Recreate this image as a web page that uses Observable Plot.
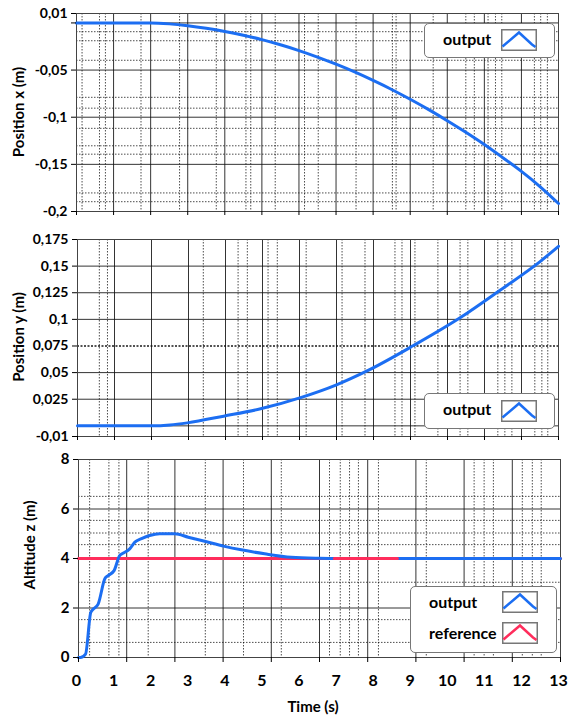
<!DOCTYPE html>
<html><head><meta charset="utf-8">
<script src="https://cdn.jsdelivr.net/npm/d3@7"></script>
<script src="https://cdn.jsdelivr.net/npm/@observablehq/plot@0.6"></script>
<style>
body{margin:0;background:#fff;}
#wrap{position:relative;width:569px;height:717px;overflow:hidden;font-family:Lato,"Open Sans",sans-serif;font-weight:700;color:#000;background:#fff;}
.panel{position:absolute;left:0;}
.lab{position:absolute;white-space:nowrap;font-size:15px;line-height:20px;height:20px;}
.rot{transform:translate(-50%,-50%) rotate(-90deg);}
.hor{transform:translate(-50%,-50%);}
.legend{position:absolute;border:1px solid #777;border-radius:5px;background:#fff;box-sizing:border-box;}
.legend .txt{position:absolute;font-size:16px;line-height:20px;height:20px;white-space:nowrap;}
.legend svg{position:absolute;}
</style>
</head><body><div id="wrap"></div>
<script>
// ---------- data ----------
const timeX = [0, 1, 2, 2.5, 3, 3.5, 4, 4.5, 5, 5.5, 6, 6.5, 7, 7.5, 8, 8.5, 9, 9.5, 10, 10.5, 11, 11.5, 12, 12.5, 13];
const posX  = [0, 0, 0, -0.0010, -0.0030, -0.0057, -0.0090, -0.0130, -0.0177, -0.0232, -0.0293, -0.0362, -0.0438, -0.0520, -0.0610, -0.0706, -0.0810, -0.0920, -0.1037, -0.1160, -0.1290, -0.1430, -0.1575, -0.1735, -0.1915];

const timeY = [0, 1, 2, 2.5, 2.97, 3.95, 4.95, 6.03, 7.0, 7.84, 9.08, 10.35, 11.43, 12.51, 13.0];
const posY  = [0, 0, 0, 0.0008, 0.0028, 0.0091, 0.0160, 0.0265, 0.0385, 0.0518, 0.0754, 0.1017, 0.1276, 0.1545, 0.1686];

const timeZ = [0, 0.05, 0.19, 0.33, 0.40, 0.53, 0.71, 0.80, 0.96, 1.11, 1.20, 1.38, 1.52, 1.70, 1.92, 2.19, 2.60, 2.96, 3.32, 3.94, 4.39, 5.02, 5.74, 6.5, 7.0, 13.0];
const altZ  = [0, 0, 0.14, 1.82, 1.96, 2.16, 3.18, 3.31, 3.51, 4.12, 4.21, 4.39, 4.66, 4.80, 4.93, 5.0, 5.0, 4.86, 4.73, 4.49, 4.35, 4.19, 4.05, 4.01, 4.0, 4.0];

const refTime = [0, 6.9, 8.6, 13];
const refAlt  = [4, 4, 4, 4];
const refVisibleFrom = 6.9, refVisibleTo = 8.6;

const yTicksX = [0.01, 0, -0.05, -0.1, -0.15, -0.2];
const yTicksY = [0.175, 0.15, 0.125, 0.1, 0.075, 0.05, 0.025, -0.01];
const yTicksZ = [0, 2, 4, 6, 8];
const xTickLabels = [0, 1, 2, 3, 4, 5, 6, 7, 8, 9, 10, 11, 12, 13];
const xTickMarksZ = [0, 1.3, 2.6, 3.9, 5.2, 6.5, 7.8, 9.1, 10.4, 11.7, 13];

const gridMajX1 = [1, 2, 3, 4, 5, 6, 7, 8, 9, 10, 11, 12];
const gridMinX1 = [0.15, 0.62, 0.78, 1.74, 2.78, 3.77, 4.57, 4.7, 5.36, 6.15, 6.52, 7.54, 8.52, 8.62, 9.62, 10.5, 10.73, 11.1, 11.3, 11.47, 12.35, 12.52, 12.7];
const gridMajY1 = [0, -0.05, -0.1, -0.15];
const gridMinY1 = [-0.0093, -0.0189, -0.0396, -0.0789, -0.0904, -0.1118, -0.1303, -0.1392, -0.1803, -0.1896];

const gridMajX2 = [1, 2, 3, 4, 5, 6, 7, 8, 9, 10, 11, 12];
const gridMinX2 = [0.59, 0.81, 3.40, 4.34, 4.59, 5.15, 5.40, 6.18, 7.15, 7.77, 8.58, 8.77, 9.12, 9.74, 10.34, 10.55, 11.36, 11.55, 11.74, 12.36, 12.55, 12.71];
const gridMajY2 = [0, 0.025, 0.05, 0.1, 0.125, 0.15];
const gridMinY2 = [0.075];

const gridMajX3 = [1.3, 2.6, 3.9, 5.2, 6.5, 7.8, 9.1, 10.4, 11.7];
const gridMinX3 = [0.30, 0.82, 1.09, 1.88, 3.42, 4.45, 5.47, 6.77, 7.06, 7.31, 7.55, 8.09, 9.38, 10.67, 10.94, 11.19, 11.97, 12.24, 12.48];
const gridMajY3 = [2, 4, 6];
const gridMinY3 = [0.61, 1.53, 3.04, 4.56, 5.03, 5.54, 6.51];

// ---------- build ----------
const BLUE = "#1c6ef2", RED = "#ff2d5c";
const comma = d => String(d).replace(".", ",");
const zip = (ts, vs) => ts.map((t, i) => ({t, v: vs[i]}));

const dataX = zip(timeX, posX), dataY = zip(timeY, posY), dataZ = zip(timeZ, altZ), dataRef = zip(refTime, refAlt);

const wrap = document.getElementById("wrap");

function grids(minX, minY, majX, majY, minYOpts = {}) {
  return [
    Plot.gridX(minX, {stroke: "#000", strokeOpacity: 0.7, strokeDasharray: "1.5,1.5"}),
    Plot.gridY(minY, Object.assign({stroke: "#000", strokeOpacity: 0.7, strokeDasharray: "1.5,1.5"}, minYOpts)),
    Plot.gridX(majX, {stroke: "#111", strokeOpacity: 0.85}),
    Plot.gridY(majY, {stroke: "#111", strokeOpacity: 0.85})
  ];
}

function addPanel(top, svg) {
  svg.classList.add("panel");
  svg.style.top = top + "px";
  wrap.appendChild(svg);
}

const common = {width: 569, x: {domain: [0, 13]}};
const styleSmall = {fontFamily: "Lato, 'Open Sans', sans-serif", fontWeight: "700", fontSize: "14px", color: "#000", background: "transparent", overflow: "visible"};

// Panel 1: Position x
addPanel(0, Plot.plot({
  ...common, height: 225, marginTop: 13, marginBottom: 14, marginLeft: 76, marginRight: 11,
  y: {domain: [-0.2, 0.01]},
  style: styleSmall,
  marks: [
    ...grids(gridMinX1, gridMinY1, gridMajX1, gridMajY1),
    Plot.frame({stroke: "#444"}),
    Plot.line(dataX, {x: "t", y: "v", stroke: BLUE, strokeWidth: 3, curve: "monotone-x"}),
    Plot.axisY(yTicksX, {tickSize: 5, tickPadding: 4, tickFormat: d => d === 0 ? "" : comma(d), label: null}),
    Plot.axisX(xTickLabels, {tickSize: 4, tickFormat: () => "", label: null})
  ]
}));

// Panel 2: Position y
addPanel(225, Plot.plot({
  ...common, height: 220, marginTop: 14, marginBottom: 9, marginLeft: 77, marginRight: 11,
  y: {domain: [-0.01, 0.175]},
  style: styleSmall,
  marks: [
    ...grids(gridMinX2, gridMinY2, gridMajX2, gridMajY2, {strokeOpacity: 0.9, strokeWidth: 1.5, strokeDasharray: "2,1.5"}),
    Plot.frame({stroke: "#444"}),
    Plot.line(dataY, {x: "t", y: "v", stroke: BLUE, strokeWidth: 3, curve: "monotone-x"}),
    Plot.axisY(yTicksY, {tickSize: 5, tickPadding: 4, tickFormat: comma, label: null}),
    Plot.axisX(xTickLabels, {tickSize: 4, tickFormat: () => "", label: null})
  ]
}));

// Panel 3: Altitude z
addPanel(445, Plot.plot({
  ...common, height: 272, marginTop: 14, marginBottom: 60, marginLeft: 78, marginRight: 9,
  y: {domain: [0, 8]},
  style: {...styleSmall, fontSize: "15px"},
  marks: [
    ...grids(gridMinX3, gridMinY3, gridMajX3, gridMajY3),
    Plot.frame({stroke: "#444"}),
    Plot.line(dataRef, {x: "t", y: "v", stroke: RED, strokeWidth: 3}),
    Plot.line(dataZ, {x: "t", y: "v", stroke: BLUE, strokeWidth: 3, curve: "monotone-x"}),
    Plot.line(dataRef, {x: "t", y: "v", stroke: RED, strokeWidth: 3, filter: d => d.t >= refVisibleFrom && d.t <= refVisibleTo}),
    Plot.axisY(yTicksZ, {tickSize: 5, tickPadding: 4, tickFormat: d => String(d), label: null}),
    Plot.axisX(xTickMarksZ, {tickSize: 5, tickFormat: () => "", label: null}),
    Plot.axisX(xTickLabels, {tickSize: 0, tickPadding: 17, dx: -2, fontSize: 16, tickFormat: d => String(d), label: null})
  ]
}));

// ---------- labels ----------
function label(text, x, y, cls) {
  const d = document.createElement("div");
  d.className = "lab " + cls;
  d.style.left = x + "px"; d.style.top = y + "px";
  d.textContent = text;
  wrap.appendChild(d);
}
label("Position x (m)", 18, 112, "rot");
label("Position y (m)", 18, 337, "rot");
label("Altitude z (m)", 29, 545, "rot");
label("Time (s)", 313, 706, "hor");

// ---------- legends ----------
function icon(color) {
  return `<svg width="36" height="22" viewBox="0 0 36 22"><rect x="0.75" y="0.75" width="34.5" height="20.5" fill="#fff" stroke="#777" stroke-width="1.5"/><polyline points="1.5,17.5 18,3.5 31,15.5 34.5,18" fill="none" stroke="${color}" stroke-width="2.5"/></svg>`;
}
function legend(x, y, w, h, rows) {
  const box = document.createElement("div");
  box.className = "legend";
  Object.assign(box.style, {left: x + "px", top: y + "px", width: w + "px", height: h + "px"});
  for (const r of rows) {
    const t = document.createElement("div");
    t.className = "txt";
    t.style.left = r.tx + "px"; t.style.top = (r.cy - 10) + "px";
    t.textContent = r.name;
    box.appendChild(t);
    const s = document.createElement("div");
    s.innerHTML = icon(r.color);
    const sv = s.firstChild;
    sv.style.left = r.ix + "px"; sv.style.top = r.iy + "px";
    box.appendChild(sv);
  }
  wrap.appendChild(box);
}
legend(424, 23, 131, 35, [{name: "output", color: BLUE, tx: 18, cy: 15, ix: 76, iy: 5}]);
legend(424, 393, 131, 36, [{name: "output", color: BLUE, tx: 18, cy: 15, ix: 76, iy: 6}]);
legend(410, 586, 147, 67, [
  {name: "output", color: BLUE, tx: 18, cy: 15, ix: 91, iy: 4},
  {name: "reference", color: RED, tx: 18, cy: 46, ix: 91, iy: 35}
]);
</script></body></html>
